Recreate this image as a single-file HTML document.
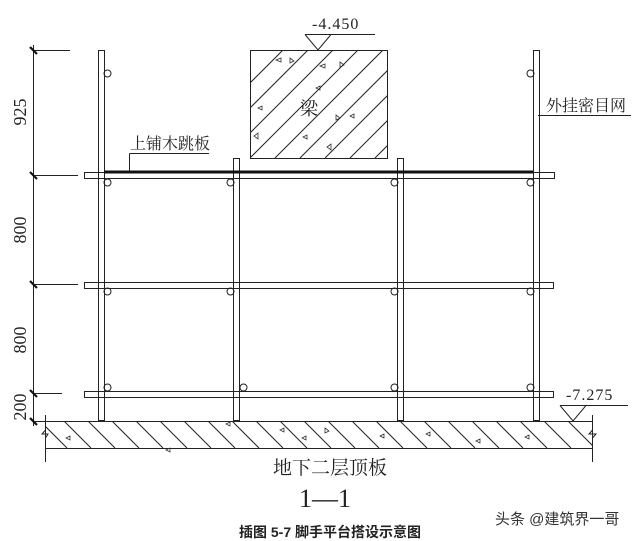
<!DOCTYPE html>
<html><head><meta charset="utf-8"><style>
html,body{margin:0;padding:0;background:#fff;}
svg{display:block}
text{font-family:"Liberation Serif","Noto Serif CJK SC",serif;fill:#222}
</style></head><body>
<svg width="640" height="541" viewBox="0 0 640 541" xmlns="http://www.w3.org/2000/svg">
<defs>
<clipPath id="beam"><rect x="250" y="50" width="137" height="108"/></clipPath>
<clipPath id="slab"><rect x="45" y="421" width="548" height="27"/></clipPath>
</defs>
<g stroke="#222" stroke-width="1" fill="none">
<rect x="250.5" y="50.5" width="137" height="108"/>
<g clip-path="url(#beam)">
<path d="M200 158 L308 50 M225 158 L333 50 M250 158 L358 50 M275 158 L383 50 M300 158 L408 50 M325 158 L433 50 M350 158 L458 50 M375 158 L483 50 M175 158 L283 50"/>
</g>
<path d="M305 34.5 H375 M305 34.5 L318 50 L331 34.5"/>
<rect x="98.5" y="50.5" width="6" height="370"/>
<rect x="233.5" y="158.5" width="6" height="262"/>
<rect x="397.5" y="158.5" width="6" height="262"/>
<rect x="533.5" y="50.5" width="6" height="370"/>
<rect x="84.5" y="172.5" width="470" height="6"/>
<rect x="84.5" y="282.5" width="469" height="6"/>
<rect x="84.5" y="391.5" width="469" height="6"/>
<g stroke-width="1">
<circle cx="107.5" cy="73.5" r="3.5"/><circle cx="530.5" cy="73.5" r="3.5"/>
<circle cx="107.5" cy="182.5" r="3.5"/><circle cx="230.5" cy="182.5" r="3.5"/><circle cx="394.5" cy="182.5" r="3.5"/><circle cx="530.5" cy="182.5" r="3.5"/>
<circle cx="107.5" cy="291.5" r="3.5"/><circle cx="230.5" cy="291.5" r="3.5"/><circle cx="394.5" cy="291.5" r="3.5"/><circle cx="530.5" cy="291.5" r="3.5"/>
<circle cx="107.5" cy="387.5" r="3.5"/><circle cx="243.5" cy="387.5" r="3.5"/><circle cx="394.5" cy="387.5" r="3.5"/><circle cx="530.5" cy="387.5" r="3.5"/>
</g>
<path d="M45 421.5 H593 M45 448.5 H593 M45.5 415 V462 M592.5 415 V462"/>
<path d="M45.5 430 L42 434 L48 434 L45.5 438 M592.5 430 L589 434 L596 434 L592.5 438"/>
<g clip-path="url(#slab)">
<path d="M40 421 L67 448 M64 421 L91 448 M88 421 L115 448 M112 421 L139 448 M136 421 L163 448 M160 421 L187 448 M184 421 L211 448 M208 421 L235 448 M232 421 L259 448 M256 421 L283 448 M280 421 L307 448 M304 421 L331 448 M328 421 L355 448 M352 421 L379 448 M376 421 L403 448 M400 421 L427 448 M424 421 L451 448 M448 421 L475 448 M472 421 L499 448 M496 421 L523 448 M520 421 L547 448 M544 421 L571 448 M568 421 L595 448"/>
</g>
<path d="M560 405.5 H628 M560 405.5 L573 421 L586 405.5"/>
<path d="M33.5 45 V426 M33 50.5 H70 M33 175.5 H78 M33 284.5 H78 M33 393.5 H62 M33 421.5 H45"/>
<path d="M129.5 153.5 H209 M129.5 153.5 V172"/>
<path d="M538 115.5 H631"/>
</g>
<g stroke="#111" stroke-width="2.2">
<path d="M30 47 L37 54 M30 172 L37 179 M30 281 L37 288 M30 390 L37 397 M30 418 L37 425"/>
</g>
<rect x="104" y="170.5" width="429" height="3" fill="#111"/>
<g stroke="#333" stroke-width="0.8" fill="none">
<path d="M276 60 l5 -2 v4z M290 58 l4 3 l-4 2z M320 66 l5 -2 v4z M340 62 l4 3 l-4 2z M316 88 l4 -2 v4z M258 108 l4 -2 v4z M350 116 l4 -2 v4z M336 115 l4 3 l-4 2z M254 136 l4 -3 v6z M303 137 l4 -2 v4z M327 147 l4 -3 v6z"/>
<path d="M66 438 l4 -2 v4z M166 450 l4 -2 v4z M226 424 l4 -2 v4z M280 430 l4 -2 v4z M302 438 l4 -2 v4z M325 428 l4 3 l-4 2z M380 436 l4 -2 v4z M426 434 l4 -2 v4z M476 441 l4 -2 v4z M525 437 l4 -2 v4z"/>
</g>
<text x="312" y="29" font-size="16" letter-spacing="1">-4.450</text>
<text x="566" y="400" font-size="16" letter-spacing="1">-7.275</text>
<text x="300" y="115" font-size="18">梁</text>
<text x="130" y="149" font-size="16">上铺木跳板</text>
<text x="546" y="111" font-size="16">外挂密目网</text>
<g font-size="18">
<text transform="translate(20 112) rotate(-90)" text-anchor="middle" dominant-baseline="central">925</text>
<text transform="translate(20 230) rotate(-90)" text-anchor="middle" dominant-baseline="central">800</text>
<text transform="translate(20 340) rotate(-90)" text-anchor="middle" dominant-baseline="central">800</text>
<text transform="translate(20 407) rotate(-90)" text-anchor="middle" dominant-baseline="central">200</text>
</g>
<text x="330" y="474" font-size="19" text-anchor="middle">地下二层顶板</text>
<text x="325" y="507" font-size="26" text-anchor="middle">1—1</text>
<text x="330" y="537" font-size="14" font-weight="bold" text-anchor="middle" style="font-family:'Liberation Sans','Noto Sans CJK SC',sans-serif">插图 5-7 脚手平台搭设示意图</text>
<text x="495" y="524" font-size="15" style="font-family:'Liberation Sans','Noto Sans CJK SC',sans-serif;fill:#333">头条 @建筑界一哥</text>
</svg>
</body></html>
